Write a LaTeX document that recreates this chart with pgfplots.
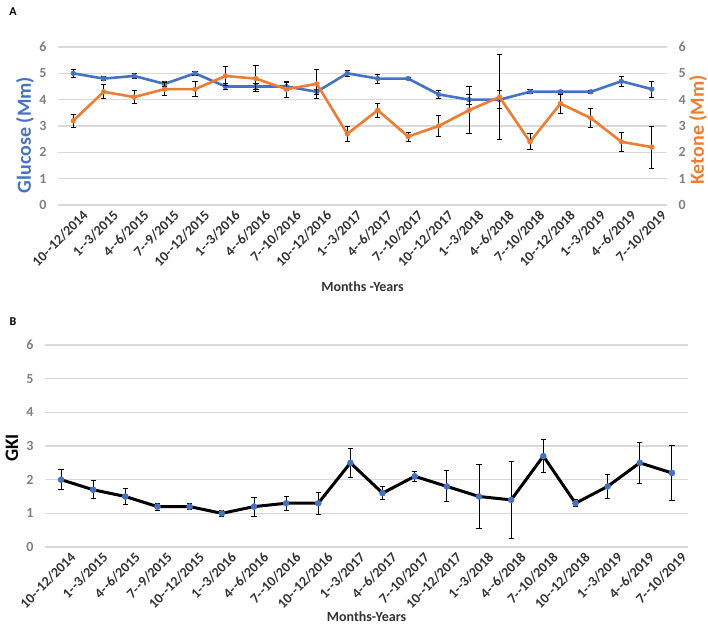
\documentclass[border=0pt]{standalone}
\usepackage{fontspec}
\setmainfont{Carlito}
\usepackage{pgfplots}
\pgfplotsset{compat=1.18}
\definecolor{gblue}{HTML}{4472C4}
\definecolor{korange}{HTML}{ED7D31}
\definecolor{gridc}{HTML}{D9D9D9}
\definecolor{tickgray}{HTML}{808080}
\definecolor{labc}{HTML}{333333}
\newcommand{\fs}[1]{\fontsize{#1}{#1}\selectfont}
\newcommand{\dd}{-\kern0.3pt-}
\pgfplotsset{
  base/.style={
    scale only axis, xmin=-0.5, xmax=19.5, ymin=0, ymax=6,
    ytick={0,...,6}, xtick={0,...,19},
    axis line style={draw=none}, major tick length=0pt,
    /pgf/number format/assume math mode=true, clip=false,
    yticklabel style={font=\fs{14}\bfseries, text=tickgray},
    error bars/error bar style={black, line width=0.9pt},
    error bars/error mark options={rotate=90, black, line width=0.9pt, mark size=2.6pt},
  },
  cats/.style={
    xticklabels={10\dd12/2014, 1\dd3/2015, 4\dd6/2015, 7\dd9/2015, 10\dd12/2015, 1\dd3/2016, 4\dd6/2016, 7\dd10/2016, 10\dd12/2016, 1\dd3/2017, 4\dd6/2017, 7\dd10/2017, 10\dd12/2017, 1\dd3/2018, 4\dd6/2018, 7\dd10/2018, 10\dd12/2018, 1\dd3/2019, 4\dd6/2019, 7\dd10/2019},
    xticklabel style={font=\fs{14}\bfseries, text=labc, rotate=45, anchor=north east, inner sep=1pt, yshift=-8pt, xshift=4pt},
  }
}
\begin{document}
\begin{tikzpicture}
\useasboundingbox (0pt,0pt) rectangle (708pt,-624pt);
\node[font=\fs{12}\bfseries] at (13pt,-12pt) {A};
\node[font=\fs{12}\bfseries] at (13pt,-322pt) {B};
% Panel A, glucose
\begin{axis}[base, cats, at={(58pt,-205pt)}, anchor=south west, width=609pt, height=158pt,
  ymajorgrids, grid style={gridc, line width=1.2pt},
  yticklabel style={xshift=-8pt},
  xlabel={Months -Years}, xlabel style={font=\fs{14}\bfseries, text=labc, at={(axis description cs:0.5,0)}, anchor=center, yshift=-82pt},
  ylabel={Glucose (Mm)}, ylabel style={font=\fs{20}\bfseries, text=gblue, at={(axis description cs:-0.0542,0.443)}, anchor=center, rotate=0},
]
\addplot[gblue, line width=2.6pt, mark=*, mark size=2.4pt, mark options={line width=0.5pt},
  error bars/.cd, y dir=both, y explicit] coordinates {
(0,5.0)+-(0,0.15) (1,4.8)+-(0,0.08) (2,4.9)+-(0,0.1) (3,4.6)+-(0,0.08) (4,5.0)+-(0,0.08)
(5,4.5)+-(0,0.12) (6,4.5)+-(0,0.1) (7,4.5)+-(0,0.15) (8,4.3)+-(0,0.1) (9,5.0)+-(0,0.12)
(10,4.8)+-(0,0.17) (11,4.8)+-(0,0.05) (12,4.2)+-(0,0.15) (13,4.0)+-(0,0.2) (14,4.0)+-(0,0.35)
(15,4.3)+-(0,0.08) (16,4.3)+-(0,0.05) (17,4.3)+-(0,0.05) (18,4.7)+-(0,0.2) (19,4.4)+-(0,0.3)
};
\end{axis}
% Panel A, ketone
\begin{axis}[base, at={(58pt,-205pt)}, anchor=south west, width=609pt, height=158pt,
  axis y line*=right, xticklabels={}, 
  yticklabel style={anchor=west, xshift=8pt},
  ylabel={Ketone (Mm)}, ylabel style={font=\fs{20}\bfseries, text=korange, at={(axis description cs:1.0509,0.475)}, anchor=center, rotate=0},
]
\addplot[korange, line width=2.6pt, mark=*, mark size=2.4pt, mark options={line width=0.5pt},
  error bars/.cd, y dir=both, y explicit] coordinates {
(0,3.2)+-(0,0.25) (1,4.3)+-(0,0.27) (2,4.1)+-(0,0.24) (3,4.4)+-(0,0.25) (4,4.4)+-(0,0.28)
(5,4.9)+-(0,0.35) (6,4.8)+-(0,0.5) (7,4.4)+-(0,0.3) (8,4.6)+-(0,0.55) (9,2.7)+-(0,0.3)
(10,3.6)+-(0,0.27) (11,2.6)+-(0,0.17) (12,3.0)+-(0,0.4) (13,3.6)+-(0,0.9) (14,4.1)+-(0,1.6)
(15,2.4)+-(0,0.3) (16,3.85)+-(0,0.36) (17,3.3)+-(0,0.36) (18,2.4)+-(0,0.36) (19,2.2)+-(0,0.8)
};
\end{axis}
% Panel B, GKI
\begin{axis}[base, cats, at={(45pt,-547pt)}, anchor=south west, width=643pt, height=202pt,
  ymajorgrids, grid style={gridc, line width=1.2pt},
  yticklabel style={xshift=-8pt},
  xlabel={Months-Years}, xlabel style={font=\fs{14}\bfseries, text=labc, at={(axis description cs:0.5,0)}, anchor=center, yshift=-70pt},
  ylabel={GKI}, ylabel style={font=\fs{19}\bfseries, text=black, at={(axis description cs:-0.0513,0.49)}, anchor=center, rotate=0},
]
\addplot[black, line width=3pt, mark=*, mark size=3pt, mark options={gblue, fill=gblue, line width=0.5pt},
  error bars/.cd, y dir=both, y explicit] coordinates {
(0,2.0)+-(0,0.3) (1,1.7)+-(0,0.27) (2,1.5)+-(0,0.24) (3,1.2)+-(0,0.1) (4,1.2)+-(0,0.08)
(5,1.0)+-(0,0.1) (6,1.2)+-(0,0.28) (7,1.3)+-(0,0.2) (8,1.3)+-(0,0.33) (9,2.5)+-(0,0.42)
(10,1.6)+-(0,0.2) (11,2.1)+-(0,0.15) (12,1.8)+-(0,0.46) (13,1.5)+-(0,0.95) (14,1.4)+-(0,1.15)
(15,2.7)+-(0,0.5) (16,1.3)+-(0,0.1) (17,1.8)+-(0,0.37) (18,2.5)+-(0,0.6) (19,2.2)+-(0,0.82)
};
\end{axis}
\end{tikzpicture}
\end{document}
